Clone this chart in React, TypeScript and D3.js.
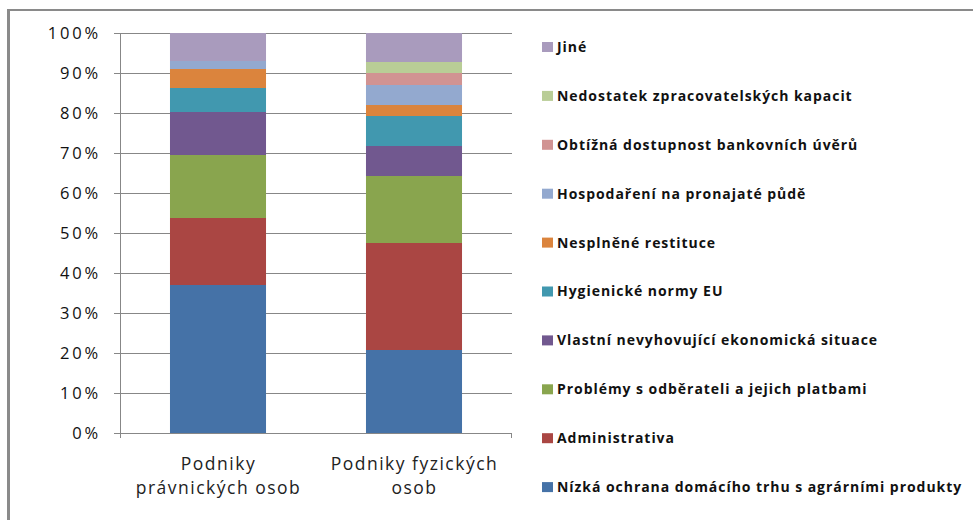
import React from "react";
import * as d3 from "d3";

const categories: string[][] = [
  ["Podniky", "právnických osob"],
  ["Podniky fyzických", "osob"],
];

const seriesNames: string[] = [
  "Nízká ochrana domácího trhu s agrárními produkty",
  "Administrativa",
  "Problémy s odběrateli a jejich platbami",
  "Vlastní nevyhovující ekonomická situace",
  "Hygienické normy EU",
  "Nesplněné restituce",
  "Hospodaření na pronajaté půdě",
  "Obtížná dostupnost bankovních úvěrů",
  "Nedostatek zpracovatelských kapacit",
  "Jiné",
];

const valuesPravnicke: number[] = [37, 16.75, 15.75, 10.75, 6, 4.75, 2, 0, 0, 7];
const valuesFyzicke: number[] = [20.75, 26.75, 16.75, 7.5, 7.5, 2.75, 5, 3, 2.75, 7.25];

const colors: string[] = [
  "#4572A7", "#AA4643", "#89A54E", "#71588F", "#4198AF",
  "#DB843D", "#93A9CF", "#D19392", "#B9CD96", "#A99BBD",
];

const tickValues: number[] = [0, 10, 20, 30, 40, 50, 60, 70, 80, 90, 100];

export default function App() {
  const W = 973, H = 520;
  const plot = { left: 120, right: 512, top: 33, bottom: 433 };
  const y = d3.scaleLinear().domain([0, 100]).range([plot.bottom, plot.top]);
  const x = d3
    .scaleBand<number>()
    .domain(categories.map((_, i) => i))
    .range([plot.left, plot.right])
    .paddingInner(0.51)
    .paddingOuter(0.255);

  const rows = [valuesPravnicke, valuesFyzicke];
  const stack = d3
    .stack<number[], number>()
    .keys(seriesNames.map((_, i) => i))
    .value((d, k) => d[k]);
  const stacked = stack(rows);

  const gridColor = "#878787";
  const legendX = 542;
  const legendY0 = 47;
  const legendStep = 48.9;

  return (
    <svg
      width={W}
      height={H}
      style={{ position: "absolute", left: 0, top: 0, background: "#fff" }}
    >
      {/* outer frame */}
      <line x1={8.5} y1={9} x2={8.5} y2={H} stroke="#8a8a8a" strokeWidth={3} />
      <line x1={7} y1={10} x2={W} y2={10} stroke="#8a8a8a" strokeWidth={2} />

      {/* grid + ticks */}
      {tickValues.map((t) => (
        <g key={t}>
          <line
            x1={plot.left - 6}
            x2={plot.right}
            y1={Math.round(y(t)) + 0.5}
            y2={Math.round(y(t)) + 0.5}
            stroke={gridColor}
            strokeWidth={1}
          />
          <text
            x={101}
            y={y(t)}
            dy="0.35em"
            textAnchor="end"
            fontFamily="'Open Sans', sans-serif"
            fontSize={16.5}
            letterSpacing={2.8}
            fill="#111"
          >
            {t}%
          </text>
        </g>
      ))}

      {/* bars */}
      {stacked.map((s, si) => (
        <g key={si} fill={colors[si]}>
          {s.map((d, ci) => (
            <rect
              key={ci}
              x={x(ci)}
              width={x.bandwidth()}
              y={y(d[1])}
              height={Math.max(0, y(d[0]) - y(d[1]))}
            />
          ))}
        </g>
      ))}

      {/* axes */}
      <line x1={plot.left + 0.5} x2={plot.left + 0.5} y1={plot.top} y2={plot.bottom + 5} stroke={gridColor} />
      <line x1={plot.left} x2={plot.right} y1={plot.bottom + 0.5} y2={plot.bottom + 0.5} stroke={gridColor} />
      <line x1={plot.right - 0.5} x2={plot.right - 0.5} y1={plot.bottom} y2={plot.bottom + 5} stroke={gridColor} />

      {/* category labels */}
      {categories.map((lines, ci) =>
        lines.map((l, li) => (
          <text
            key={`${ci}-${li}`}
            x={(x(ci) ?? 0) + x.bandwidth() / 2 + 0.5}
            y={470 + li * 24}
            textAnchor="middle"
            fontFamily="'Open Sans', sans-serif"
            fontSize={17.5}
            letterSpacing={1.5}
            fill="#222"
          >
            {l}
          </text>
        ))
      )}

      {/* legend (top = last series) */}
      {seriesNames
        .map((n, i) => ({ n, i }))
        .reverse()
        .map(({ n, i }, k) => {
          const cy = legendY0 + k * legendStep;
          return (
            <g key={i}>
              <rect x={legendX} y={cy - 5} width={11} height={10} fill={colors[i]} />
              <text
                x={557}
                y={cy}
                dy="0.35em"
                fontFamily="'Open Sans', sans-serif"
                fontWeight={700}
                fontSize={14}
                letterSpacing={0.95}
                fill="#111"
              >
                {n}
              </text>
            </g>
          );
        })}
    </svg>
  );
}
